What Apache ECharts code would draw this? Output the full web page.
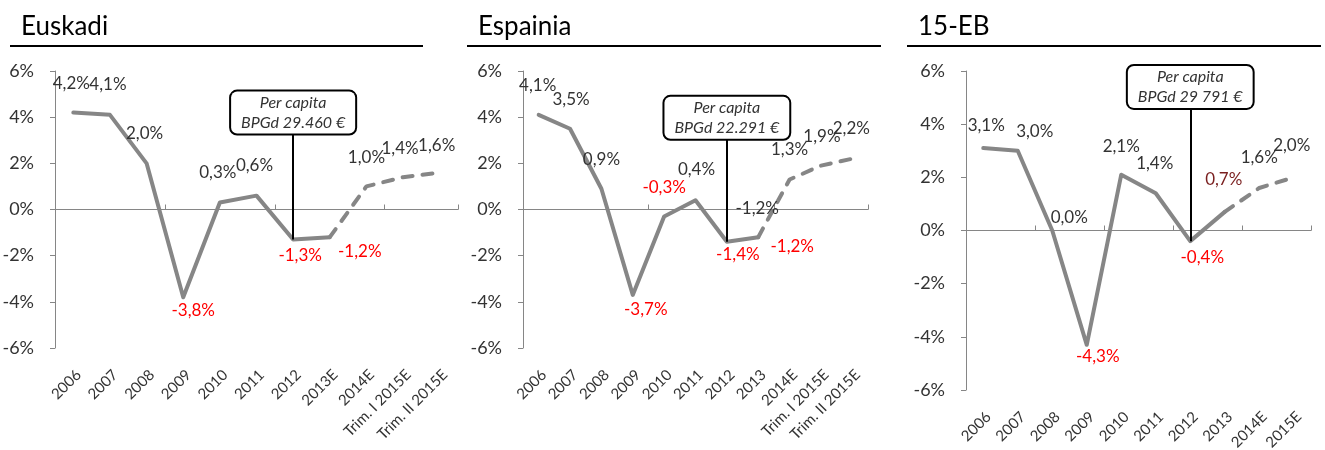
<!DOCTYPE html>
<html>
<head>
<meta charset="utf-8">
<script src="https://cdn.jsdelivr.net/npm/echarts@6/dist/echarts.min.js"></script>
<style>
html, body { margin: 0; padding: 0; background: #fff; }
#chart { width: 1325px; height: 450px; }
</style>
</head>
<body>
<div id="chart"></div>
<script>
// BPG hazkundea (%), urtez urte
var euYears = ['2006', '2007', '2008', '2009', '2010', '2011', '2012', '2013E', '2014E', 'Trim. I 2015E', 'Trim. II 2015E'];
var euGrowth = [4.2, 4.1, 2.0, -3.8, 0.3, 0.6, -1.3, -1.2, 1.0, 1.4, 1.6];

var esYears = ['2006', '2007', '2008', '2009', '2010', '2011', '2012', '2013', '2014E', 'Trim. I 2015E', 'Trim. II 2015E'];
var esGrowth = [4.1, 3.5, 0.9, -3.7, -0.3, 0.4, -1.4, -1.2, 1.3, 1.9, 2.2];

var ebYears = ['2006', '2007', '2008', '2009', '2010', '2011', '2012', '2013', '2014E', '2015E'];
var ebGrowth = [3.1, 3.0, 0.0, -4.3, 2.1, 1.4, -0.4, 0.7, 1.6, 2.0];

// index where the dashed (forecast) part starts
var euForecastFrom = 7;
var esForecastFrom = 7;
var ebForecastFrom = 7;

var perCapita = ['BPGd 29.460 €', 'BPGd 22.291 €', 'BPGd 29 791 €'];
var noteYear = '2012';

// label placement / colour (k = dark, r = red, d = dark red)
var euLabelShift = [[-2,-29],[-2,-30],[-2,-30],[10,13],[-2,-30],[-2,-30],[7,16],[30,14],[0,-29],[-3,-29],[-3,-27]];
var euLabelTone = 'kkkrkkrrkkk';
var esLabelShift = [[-1,-29],[1,-29],[0,-29],[13,15],[0,-29],[1,-31],[11,13],[34,9],[0,-30],[1,-29],[-1,-30]];
var esLabelTone = 'kkkrrkrrkkk';
var ebLabelShift = [[3,-23],[17,-19],[17,-13],[11,12],[0,-28],[-1,-30],[12,16],[-1,-32],[0,-30],[-2,-32]];
var ebLabelTone = 'kkkrkkrdkk';

var tones = { k: '#333333', r: '#ff0000', d: '#7a1f1f' };
var font = 'Lato, "Open Sans", sans-serif';

var panels = [
    { title: 'Euskadi', years: euYears, growth: euGrowth, from: euForecastFrom, note: perCapita[0],
      shift: euLabelShift, tone: euLabelTone, splitLabel: null, noteAt: 4.2, noteBottom: 3.3,
      grid: { left: 55, top: 71, width: 403, height: 277 }, titleLeft: 16, rule: [10, 423] },
    { title: 'Espainia', years: esYears, growth: esGrowth, from: esForecastFrom, note: perCapita[1],
      shift: esLabelShift, tone: esLabelTone, splitLabel: { shift: [-1, -29], tone: 'k' }, noteAt: 3.97, noteBottom: 3.1,
      grid: { left: 523, top: 71, width: 345, height: 277 }, titleLeft: 473, rule: [467, 881] },
    { title: '15-EB', years: ebYears, growth: ebGrowth, from: ebForecastFrom, note: perCapita[2],
      shift: ebLabelShift, tone: ebLabelTone, splitLabel: null, noteAt: 5.4, noteBottom: 4.6,
      grid: { left: 966, top: 71, width: 345, height: 319 }, titleLeft: 913, rule: [907, 1321] }
];

function pct(v) {
    return v.toFixed(1).replace('.', ',') + '%';
}

var option = {
    animation: false,
    backgroundColor: '#fff',
    title: [],
    graphic: [],
    grid: [],
    xAxis: [],
    yAxis: [],
    series: []
};

panels.forEach(function (p, k) {
    option.title.push({
        text: p.title, left: p.titleLeft, top: 9,
        textStyle: { fontFamily: font, fontSize: 26, fontWeight: 'normal', color: '#000' }
    });
    option.graphic.push({
        type: 'line', shape: { x1: p.rule[0], y1: 46, x2: p.rule[1], y2: 46 },
        style: { stroke: '#000', lineWidth: 2 }
    });
    var g = p.grid;
    option.grid.push({ left: g.left, top: g.top, width: g.width, height: g.height, outerBoundsMode: 'none' });

    // category labels at the bottom
    option.xAxis.push({
        gridIndex: k, type: 'category', data: p.years, position: 'bottom',
        axisLine: { show: false, onZero: false }, axisTick: { show: false },
        axisLabel: { interval: 0, rotate: 45, align: 'right', verticalAlign: 'top', margin: 19,
                     fontFamily: font, fontSize: 15, color: '#333333' },
        splitLine: { show: false }
    });
    // zero line with ticks
    option.xAxis.push({
        gridIndex: k, type: 'category', data: p.years, position: 'top',
        axisLine: { show: true, onZero: true, lineStyle: { color: '#868686', width: 1 } },
        axisTick: { show: true, length: 5, lineStyle: { color: '#868686' } },
        axisLabel: { show: false }, splitLine: { show: false }
    });
    option.yAxis.push({
        gridIndex: k, type: 'value', min: -6, max: 6, interval: 2,
        axisLine: { show: true, lineStyle: { color: '#868686', width: 1 } },
        axisTick: { show: true, length: 5, lineStyle: { color: '#868686' } },
        axisLabel: { formatter: '{value}%', margin: 21, fontFamily: font, fontSize: 18, color: '#333333' },
        splitLine: { show: false }
    });

    var solid = p.growth.map(function (v, i) {
        if (i > p.from) return '-';
        return { value: v, label: { offset: p.shift[i], color: tones[p.tone[i]] } };
    });
    var dashed = p.growth.map(function (v, i) {
        if (i < p.from) return '-';
        if (i === p.from) {
            if (!p.splitLabel) return { value: v, label: { show: false } };
            return { value: v, label: { offset: p.splitLabel.shift, color: tones[p.splitLabel.tone] } };
        }
        return { value: v, label: { offset: p.shift[i], color: tones[p.tone[i]] } };
    });
    var common = {
        type: 'line', xAxisIndex: 2 * k, yAxisIndex: k,
        symbol: 'circle', symbolSize: 1,
        itemStyle: { color: 'rgba(0,0,0,0)' },
        label: { show: true, position: 'inside', fontFamily: font, fontSize: 17,
                 formatter: function (q) { return pct(q.value); } },
        emphasis: { disabled: true }
    };
    option.series.push(Object.assign({}, common, {
        name: p.title,
        data: solid,
        lineStyle: { color: '#868686', width: 4, cap: 'round', join: 'round' },
        markLine: {
            silent: true, symbol: 'none', label: { show: false },
            lineStyle: { color: '#000', width: 2, type: 'solid' },
            data: [[{ coord: [noteYear, p.noteBottom] }, { coord: [noteYear, p.growth[p.years.indexOf(noteYear)]] }]]
        },
        markPoint: {
            silent: true, symbol: 'rect', symbolSize: 1, itemStyle: { color: 'rgba(0,0,0,0)' },
            label: {
                show: true, position: 'inside',
                formatter: 'Per capita\n' + p.note,
                fontFamily: font, fontStyle: 'italic', fontSize: 16, lineHeight: 20, color: '#333333',
                backgroundColor: '#fff', borderColor: '#000', borderWidth: 2, borderRadius: 6,
                padding: [1, 10], align: 'center'
            },
            data: [{ coord: [noteYear, p.noteAt] }]
        }
    }));
    option.series.push(Object.assign({}, common, {
        name: p.title + ' E',
        data: dashed,
        lineStyle: { color: '#868686', width: 4, type: [10, 10], cap: 'round' }
    }));
});

var chart = echarts.init(document.getElementById('chart'));
chart.setOption(option);
</script>
</body>
</html>
